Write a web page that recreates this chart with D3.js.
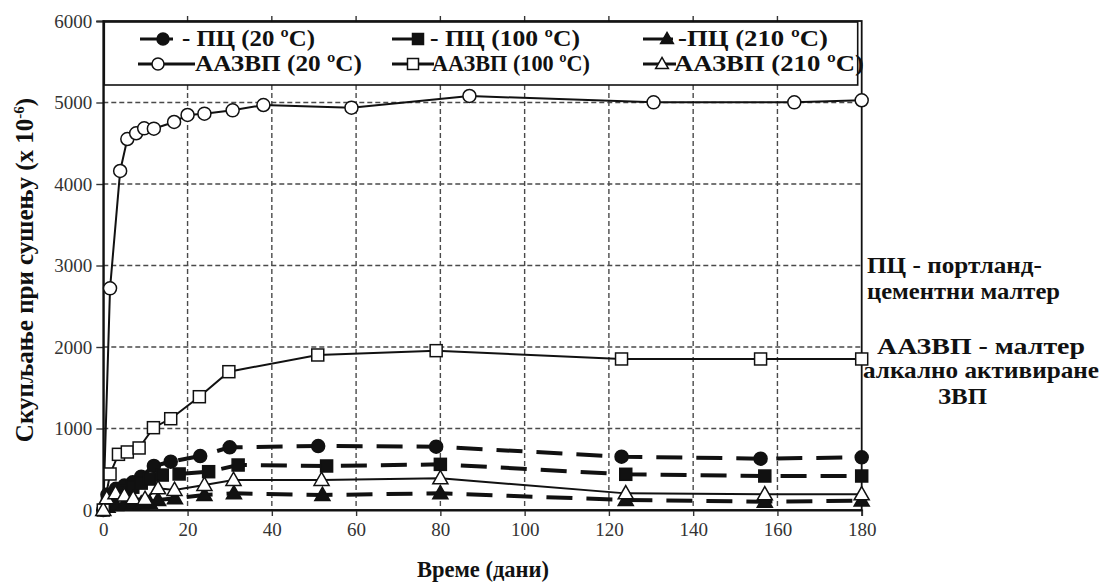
<!DOCTYPE html>
<html><head><meta charset="utf-8">
<script src="https://cdn.jsdelivr.net/npm/d3@7"></script>
<style>body{margin:0;background:#fff}svg{display:block}
svg text{font-family:"Liberation Serif","Times New Roman",Times,serif}</style>
</head><body>
<svg id="c" width="1102" height="585"></svg>
<script>
// ---- data (days, shrinkage x10^-6) ----
const xTicks = [0,20,40,60,80,100,120,140,160,180];
const yTicks = [0,1000,2000,3000,4000,5000,6000];
const pc20Days   = [1,3,5,7,9,12,16,23,30,51,79,123,156,180];
const pc20Vals   = [190,260,300,340,409,540,593,662,769,785,777,654,630,646];
const pc100Days  = [1,3,5,7,9,11,14,18,25,32,53,80,124,157,180];
const pc100Vals  = [120,190,230,280,330,380,429,442,470,552,540,560,438,417,417];
const pc210Days  = [1,3,5,7,9,11,13,17,24,31,52,80,124,157,180];
const pc210Vals  = [40,60,70,75,80,90,123,143,184,204,184,204,123,102,115];
const aa20Days   = [0,1.6,4,5.7,7.8,9.7,12,16.8,20,24,30.7,38,58.9,86.9,130.6,164,180];
const aa20Vals   = [0,2720,4160,4552,4622,4683,4679,4761,4847,4863,4904,4969,4937,5080,5002,5002,5027];
const aa100Days  = [0,1.6,3.6,5.7,8.5,11.9,16,22.8,29.8,50.9,79,123,156,180];
const aa100Vals  = [0,442,683,712,761,1010,1120,1390,1697,1902,1955,1853,1853,1853];
const aa210Days  = [0,0.8,2.9,5,7.1,9.9,13,16.9,24,30.9,51.8,80,124,157,180];
const aa210Vals  = [0,143,204,176,143,135,266,245,307,368,368,389,204,192,192];
const seriesNames = ["ПЦ (20 ºC)","ПЦ (100 ºC)","ПЦ (210 ºC)","ААЗВП (20 ºC)","ААЗВП (100 ºC)","ААЗВП (210 ºC)"];

const svg = d3.select("#c");
const L=103.3, R=861.7, T=21, B=510;
const x = d3.scaleLinear().domain([0,180]).range([L,R]);
const y = d3.scaleLinear().domain([0,6000]).range([B,T]);
const serif = '"Liberation Serif", "Times New Roman", Times, serif';

// grid
const g = svg.append("g");
g.selectAll(".gx").data(xTicks.filter(d=>d>0&&d<180)).join("line")
  .attr("x1",d=>x(d)).attr("x2",d=>x(d)).attr("y1",T).attr("y2",B)
  .attr("stroke","#4a4a4a").attr("stroke-width",1.4).attr("stroke-dasharray","5,3");
g.selectAll(".gy").data(yTicks.filter(d=>d>0&&d<6000)).join("line")
  .attr("x1",L).attr("x2",R).attr("y1",d=>y(d)).attr("y2",d=>y(d))
  .attr("stroke","#4a4a4a").attr("stroke-width",1.4).attr("stroke-dasharray","5,3");

// axes
const xa = svg.append("g").attr("transform",`translate(0,${B})`)
  .call(d3.axisBottom(x).tickValues(xTicks).tickFormat(d3.format("d")).tickSize(6).tickPadding(7));
const ya = svg.append("g").attr("transform",`translate(${L},0)`)
  .call(d3.axisLeft(y).tickValues(yTicks).tickFormat(d3.format("d")).tickSize(7).tickPadding(4));
[xa,ya].forEach(a=>{
  a.attr("font-family",null);
  a.select(".domain").attr("stroke","#111").attr("stroke-width",1.8);
  a.selectAll(".tick line").attr("stroke","#333").attr("stroke-width",1.4);
  a.selectAll("text").style("font-family",serif).attr("font-size",19).attr("fill","#333");
});
// top mirror ticks and frame
svg.append("g").selectAll("line").data(xTicks.filter(d=>d>0&&d<180)).join("line")
  .attr("x1",d=>x(d)).attr("x2",d=>x(d)).attr("y1",T-5).attr("y2",T)
  .attr("stroke","#333").attr("stroke-width",1.4);
svg.append("rect").attr("x",L).attr("y",T).attr("width",R-L).attr("height",B-T)
  .attr("fill","none").attr("stroke","#111").attr("stroke-width",1.8);

// series
const line = d3.line().x(d=>x(d[0])).y(d=>y(d[1]));
const zip = (a,b)=>a.map((v,i)=>[v,b[i]]);
const S = {
  aa20: zip(aa20Days,aa20Vals), aa100: zip(aa100Days,aa100Vals), aa210: zip(aa210Days,aa210Vals),
  pc20: zip(pc20Days,pc20Vals), pc100: zip(pc100Days,pc100Vals), pc210: zip(pc210Days,pc210Vals)
};
const dashed = {"stroke":"#111","stroke-width":4,"stroke-dasharray":"26,14","fill":"none"};
const solid = {"stroke":"#111","stroke-width":2,"fill":"none"};
function drawLine(data,st){const p=svg.append("path").datum(data).attr("d",line);for(const k in st)p.attr(k,st[k]);}
function marker(sel,type,fill,size){
  if(type==="circle") sel.append("circle").attr("r",size/2).attr("fill",fill).attr("stroke","#111").attr("stroke-width",1.5);
  else if(type==="square") sel.append("rect").attr("x",-size/2).attr("y",-size/2).attr("width",size).attr("height",size).attr("fill",fill).attr("stroke","#111").attr("stroke-width",1.5);
  else sel.append("path").attr("d",`M0,${-size*0.6}L${size*0.58},${size*0.42}L${-size*0.58},${size*0.42}Z`).attr("fill",fill).attr("stroke","#111").attr("stroke-width",1.5);
}
function drawMarkers(data,type,fill,size){
  svg.append("g").selectAll("g").data(data).join("g")
    .attr("transform",d=>`translate(${x(d[0])},${y(d[1])})`)
    .each(function(){marker(d3.select(this),type,fill,size);});
}
drawLine(S.pc210,dashed); drawLine(S.pc100,dashed); drawLine(S.pc20,dashed);
drawLine(S.aa20,solid); drawLine(S.aa100,solid); drawLine(S.aa210,solid);
drawMarkers(S.pc20,"circle","#111",13);
drawMarkers(S.pc100,"square","#111",12);
drawMarkers(S.pc210,"triangle","#111",13);
drawMarkers(S.aa20,"circle","#fff",13);
drawMarkers(S.aa100,"square","#fff",12);
drawMarkers(S.aa210,"triangle","#fff",13);

// legend
svg.append("rect").attr("x",L+1).attr("y",T+1).attr("width",R-L-5).attr("height",63)
  .attr("fill","#fff").attr("stroke","#111").attr("stroke-width",1.6);
const leg = [
  {x1:140,x2:173,m:163,type:"circle",fill:"#111",tx:182,ty:46,w:133,label:"- "+seriesNames[0]},
  {x1:392,x2:423,m:418,type:"square",fill:"#111",tx:430,ty:46,w:150,label:"- "+seriesNames[1]},
  {x1:643,x2:673,m:667,type:"triangle",fill:"#111",tx:678,ty:46,w:150,label:"-"+seriesNames[2]},
  {x1:138,x2:195,m:158,type:"circle",fill:"#fff",tx:195,ty:71,w:167,label:seriesNames[3]},
  {x1:392,x2:434,m:413,type:"square",fill:"#fff",tx:432,ty:71,w:158,label:seriesNames[4]},
  {x1:643,x2:676,m:662,type:"triangle",fill:"#fff",tx:674,ty:71,w:190,label:seriesNames[5]}
];
leg.forEach(l=>{
  const cy=l.ty-7;
  svg.append("line").attr("x1",l.x1).attr("x2",l.x2).attr("y1",cy).attr("y2",cy).attr("stroke","#111").attr("stroke-width",3);
  const gm=svg.append("g").attr("transform",`translate(${l.m},${cy})`);
  marker(gm,l.type,l.fill,l.type==="circle"?12:11);
  svg.append("text").attr("x",l.tx).attr("y",l.ty).style("font-family",serif).attr("font-weight","bold")
    .attr("font-size",23.5).attr("fill","#111").attr("textLength",l.w).attr("lengthAdjust","spacingAndGlyphs").text(l.label);
});

// axis titles
svg.append("text").attr("x",483).attr("y",577).attr("text-anchor","middle").style("font-family",serif)
  .attr("font-weight","bold").attr("font-size",22.5).attr("fill","#111").text("Време (дани)");
const yt = svg.append("text").attr("transform","translate(33,270) rotate(-90)").attr("text-anchor","middle")
  .style("font-family",serif).attr("font-weight","bold").attr("font-size",25).attr("fill","#111");
yt.append("tspan").text("Скупљање при сушењу (x 10");
yt.append("tspan").attr("font-size",15).attr("dy",-9).text("-6");
yt.append("tspan").attr("dy",9).text(")");

// annotations
const ann = [
  {x:867,y:273,w:175,t:"ПЦ - портланд-"},
  {x:867,y:299,w:193,t:"цементни малтер"},
  {x:877,y:354,w:208,t:"ААЗВП - малтер"},
  {x:863,y:378,w:236,t:"алкално активиране"},
  {x:938,y:404,w:49,t:"ЗВП"}
];
svg.append("g").selectAll("text").data(ann).join("text").attr("x",d=>d.x).attr("y",d=>d.y)
  .style("font-family",serif).attr("font-weight","bold").attr("font-size",23.5).attr("fill","#111")
  .attr("textLength",d=>d.w).attr("lengthAdjust","spacingAndGlyphs").text(d=>d.t);
</script>
</body></html>
